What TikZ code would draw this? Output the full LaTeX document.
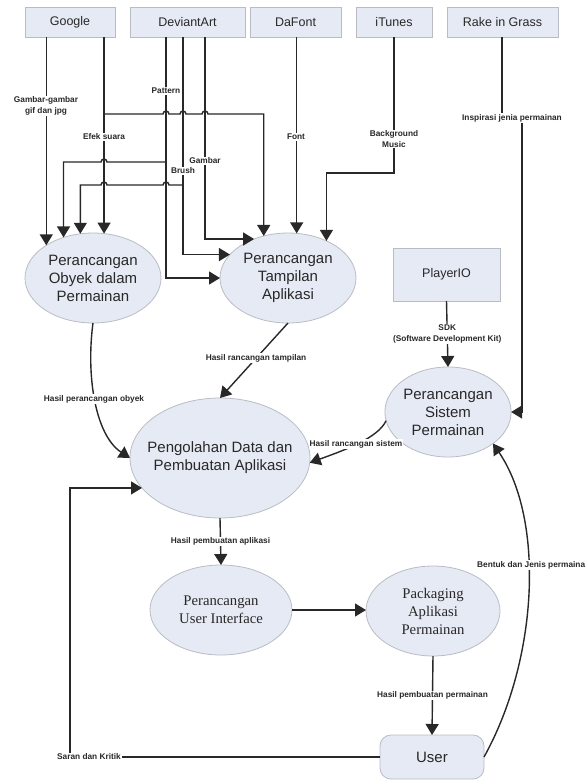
\documentclass[tikz,border=0pt]{standalone}
\usepackage{fontspec}
\setmainfont{Liberation Sans}
\newfontfamily\timesf{Liberation Serif}
\usetikzlibrary{arrows.meta,shapes.geometric}

\definecolor{nodefill}{RGB}{230,234,244}
\definecolor{nodeline}{RGB}{185,188,196}
\definecolor{linec}{RGB}{40,40,40}
\definecolor{txt}{RGB}{40,40,40}

\tikzset{
 srcbox/.style={draw=nodeline, fill=nodefill, line width=0.8pt, minimum height=30pt, inner sep=0pt, outer sep=0pt, font=\fontsize{12.5}{14}\selectfont, text=txt},
 proc/.style={ellipse, draw=nodeline, fill=nodefill, line width=0.8pt, inner sep=0pt, outer sep=0pt, align=center, font=\fontsize{15}{18}\selectfont, text=txt},
 procserif/.style={proc, font=\timesf\fontsize{14.7}{18}\selectfont},
 flow/.style={draw=linec, line width=1.4pt, -{Triangle[width=13pt,length=11pt]}},
 plain/.style={draw=linec, line width=1.4pt},
 lbl/.style={fill=white, inner sep=1pt, align=center, font=\fontsize{8.3}{10.5}\bfseries\selectfont, text=txt},
}

\begin{document}
\begin{tikzpicture}[x=1pt,y=-1pt]
\useasboundingbox (0,0) rectangle (587,780);

% source boxes
\node[srcbox, minimum width=90pt]  (google)  at (70,22)    {Google};
\node[srcbox, minimum width=115pt] (deviant) at (187.5,22) {DeviantArt};
\node[srcbox, minimum width=91pt]  (dafont)  at (295.5,22) {DaFont};
\node[srcbox, minimum width=76pt]  (itunes)  at (394,22)   {iTunes};
\node[srcbox, minimum width=111pt] (rake)    at (502.5,22) {Rake in Grass};
\node[srcbox, minimum width=107pt, minimum height=53pt] (player) at (446.5,274.5) {PlayerIO};

% processes
\node[proc, minimum width=136pt, minimum height=90pt] (obyek)    at (93,278)  {Perancangan\\Obyek dalam\\Permainan};
\node[proc, minimum width=136pt, minimum height=90pt] (tampilan) at (288,278) {Perancangan\\Tampilan\\Aplikasi};
\node[proc, minimum width=124pt, minimum height=90pt] (sistem)   at (448,412) {Perancangan\\Sistem\\Permainan};
\node[proc, minimum width=180pt, minimum height=120pt, inner xsep=-20pt] (pengolahan) at (220,458) {Pengolahan Data dan\\Pembuatan Aplikasi};
\node[procserif, minimum width=142pt, minimum height=90pt] (ui)   at (221,610) {Perancangan\\User Interface};
\node[procserif, minimum width=134pt, minimum height=90pt] (pack) at (433,611) {Packaging\\Aplikasi\\Permainan};
\node[srcbox, rounded corners=11pt, minimum width=104pt, minimum height=44pt, font=\fontsize{15}{18}\selectfont] (user) at (432,757) {User};

% helper x positions
\coordinate (xpat) at (166,0);
\coordinate (xbr)  at (183,0);
\coordinate (xgb)  at (205,0);
\coordinate (xrk)  at (502,0);
\coordinate (xrk2) at (522,0);
\coordinate (xfb)  at (70,0);

% Google
\draw[flow] (google.south -| obyek.145.3) -- (obyek.145.3);
\draw[flow] (google.south -| obyek.76.1) -- (obyek.76.1);
\draw[flow] (104,114) -- (163,114) arc[start angle=180,end angle=0,radius=3pt]
  -- (180,114) arc[start angle=180,end angle=0,radius=3pt]
  -- (202,114) arc[start angle=180,end angle=0,radius=3pt]
  -- (208,114) -| (tampilan.120.8);

% DeviantArt
\draw[flow] (deviant.south -| xpat) |- (tampilan.west);
\draw[flow] (deviant.south -| xbr) |- (tampilan.158.5);
\draw[flow] (deviant.south -| xgb) |- (tampilan.131.1);
\draw[flow] (166,162) -- (107,162) arc[start angle=0,end angle=180,radius=3pt] -- (101,162) -| (obyek.126.6);
\draw[flow] (183,185) -- (169,185) arc[start angle=0,end angle=180,radius=3pt]
  -- (107,185) arc[start angle=0,end angle=180,radius=3pt] -- (101,185) -| (obyek.106.4);

% DaFont, iTunes
\draw[flow] (dafont.south -| tampilan.79.9) -- (tampilan.79.9);
\draw[flow] (itunes.south) -- ++(0,136) -| (tampilan.44.5);

% Rake in Grass
\node[lbl] (rakelbl) at (512,118) {Inspirasi jenia permainan};
\draw[plain] (rake.south -| xrk) -- (rakelbl.north -| xrk);
\draw[flow] (rakelbl.south -| xrk2) |- (sistem.east);

% PlayerIO
\draw[flow] (player.south) -- (sistem.north) node[lbl, midway] (sdk) {SDK\\(Software Development Kit)};

% top labels
\node[lbl] (lgif)  at (46,106)  {Gambar-gambar\\gif dan jpg};
\node[lbl] (lefek) at (104,137) {Efek suara};
\node[lbl] (lpat)  at (166,91)  {Pattern};
\node[lbl] (lgb)   at (205,161) {Gambar};
\node[lbl] (lbr)   at (183,171) {Brush};
\node[lbl] (lfont) at (296,137) {Font};
\node[lbl] (lbgm)  at (394,139) {Background\\Music};

% into Pengolahan
\draw[flow] (obyek.south) .. controls (86,375) and (95,435) .. (pengolahan.west);
\node[lbl] (lobyek) at (94,399) {Hasil perancangan obyek};
\draw[flow] (tampilan.south) -- (pengolahan.north) node[lbl, pos=0.47] (ltamp) {Hasil rancangan tampilan};
\draw[flow] (sistem.188) .. controls (378,438) and (345,450) .. (pengolahan.-3);
\node[lbl] (lsis) at (356,444) {Hasil rancangan sistem};

% lower flow
\draw[flow] (pengolahan.south) -- (ui.north) node[lbl, midway] (lapl) {Hasil pembuatan aplikasi};
\draw[flow] (ui.east) -- (ui.east -| pack.west);
\draw[flow] (pack.south) -- (user.north) node[lbl, midway] (lperm) {Hasil pembuatan permainan};

% feedback
\node[lbl] (saran) at (89,757) {Saran dan Kritik};
\draw[plain] (user.west) -- (saran.east);
\draw[flow] (saran.north -| xfb) |- (pengolahan.201);
\draw[flow] (user.east) .. controls (538,660) and (545,520) .. (sistem.-35);
\node[lbl, anchor=west] (lbentuk) at (476,565) {Bentuk dan Jenis permaina};
\end{tikzpicture}
\end{document}
